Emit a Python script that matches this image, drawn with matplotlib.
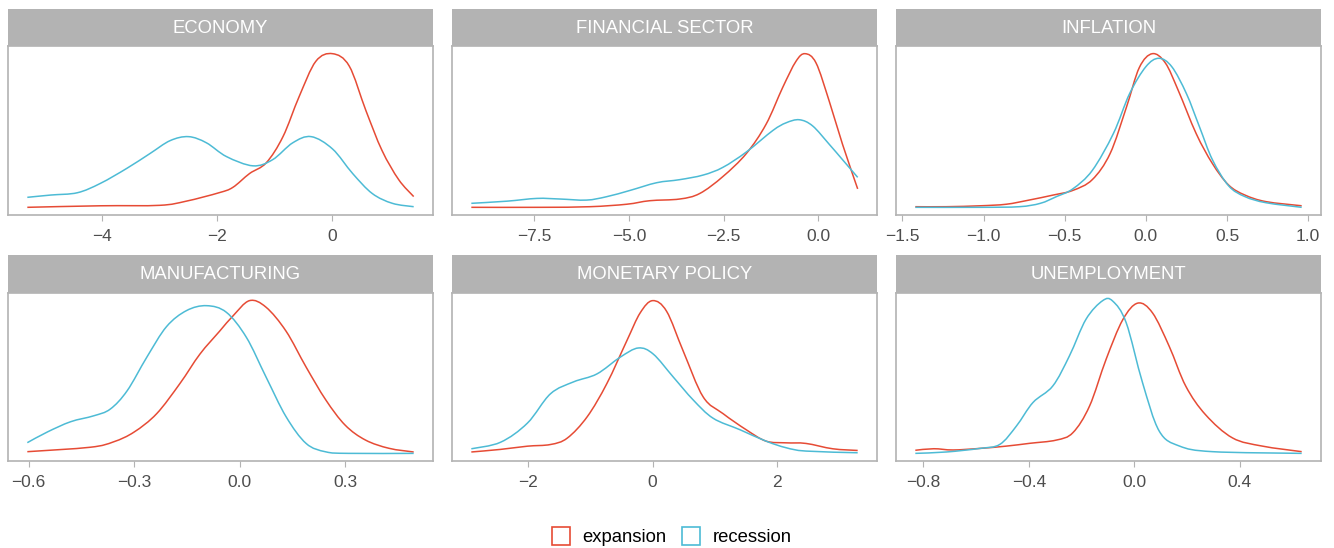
import numpy as np
import matplotlib
matplotlib.use('Agg')
import matplotlib.pyplot as plt
from matplotlib.path import Path
from matplotlib.patches import PathPatch
from matplotlib.lines import Line2D

plt.rcParams['font.family'] = ['Liberation Sans', 'DejaVu Sans']

# density curves (x = score, y = relative density height)
econ_exp_x = [-5.30, -4.03, -3.00, -2.54, -1.97, -1.73, -1.44, -1.15, -0.86, -0.58, -0.29, 0.00, 0.29, 0.58, 0.86, 1.15, 1.41]
econ_exp_y = [0.0, 0.01, 0.013, 0.04, 0.095, 0.13, 0.22, 0.29, 0.46, 0.72, 0.95, 1.0, 0.92, 0.63, 0.37, 0.18, 0.07]
econ_rec_x = [-5.30, -4.89, -4.43, -4.03, -3.57, -3.17, -2.82, -2.50, -2.19, -1.84, -1.38, -1.04, -0.69, -0.37, 0.00, 0.35, 0.69, 1.04, 1.41]
econ_rec_y = [0.065, 0.08, 0.095, 0.156, 0.254, 0.35, 0.434, 0.46, 0.42, 0.33, 0.27, 0.31, 0.42, 0.46, 0.38, 0.22, 0.09, 0.026, 0.004]

fin_exp_x = [-9.16, -7.34, -6.03, -5.06, -4.45, -3.66, -3.13, -2.52, -1.90, -1.38, -0.94, -0.59, -0.35, -0.06, 0.29, 0.64, 1.04]
fin_exp_y = [0.0, 0.0, 0.004, 0.02, 0.043, 0.054, 0.09, 0.2, 0.35, 0.54, 0.78, 0.95, 1.0, 0.94, 0.69, 0.41, 0.12]
fin_rec_x = [-9.16, -8.22, -7.43, -6.82, -6.12, -5.59, -4.97, -4.27, -3.66, -3.04, -2.52, -1.90, -1.20, -0.85, -0.50, -0.15, 0.29, 0.64, 1.04]
fin_rec_y = [0.026, 0.04, 0.058, 0.054, 0.047, 0.069, 0.11, 0.16, 0.18, 0.21, 0.26, 0.36, 0.50, 0.55, 0.57, 0.53, 0.41, 0.31, 0.195]

infl_exp_x = [-1.42, -1.23, -1.02, -0.86, -0.72, -0.57, -0.45, -0.33, -0.22, -0.12, -0.04, 0.04, 0.12, 0.20, 0.31, 0.41, 0.51, 0.61, 0.74, 0.96]
infl_exp_y = [0.004, 0.004, 0.01, 0.02, 0.047, 0.08, 0.11, 0.18, 0.35, 0.65, 0.91, 1.0, 0.94, 0.76, 0.48, 0.285, 0.145, 0.08, 0.037, 0.01]
infl_rec_x = [-1.42, -1.02, -0.78, -0.65, -0.55, -0.45, -0.33, -0.20, -0.10, 0.00, 0.08, 0.16, 0.25, 0.33, 0.41, 0.51, 0.61, 0.74, 0.96]
infl_rec_y = [0.0, 0.0, 0.004, 0.026, 0.07, 0.12, 0.24, 0.48, 0.74, 0.915, 0.97, 0.915, 0.74, 0.525, 0.31, 0.14, 0.07, 0.03, 0.0]

manu_exp_x = [-0.604, -0.425, -0.358, -0.300, -0.236, -0.170, -0.113, -0.057, -0.019, 0.028, 0.075, 0.132, 0.189, 0.245, 0.300, 0.358, 0.425, 0.495]
manu_exp_y = [0.011, 0.04, 0.076, 0.14, 0.26, 0.457, 0.65, 0.80, 0.90, 1.0, 0.957, 0.80, 0.565, 0.35, 0.185, 0.087, 0.033, 0.009]
manu_rec_x = [-0.604, -0.547, -0.481, -0.415, -0.368, -0.320, -0.264, -0.208, -0.151, -0.094, -0.038, 0.019, 0.075, 0.132, 0.189, 0.245, 0.310, 0.495]
manu_rec_y = [0.07, 0.14, 0.207, 0.246, 0.29, 0.41, 0.63, 0.83, 0.935, 0.967, 0.924, 0.76, 0.50, 0.24, 0.065, 0.01, 0.0, 0.0]

mone_exp_x = [-2.91, -2.44, -2.01, -1.64, -1.37, -1.05, -0.735, -0.415, -0.20, 0.00, 0.224, 0.49, 0.81, 1.13, 1.50, 1.82, 2.14, 2.46, 2.89, 3.29]
mone_exp_y = [0.009, 0.026, 0.047, 0.058, 0.10, 0.24, 0.457, 0.737, 0.92, 1.0, 0.93, 0.67, 0.37, 0.26, 0.155, 0.08, 0.069, 0.065, 0.03, 0.019]
mone_rec_x = [-2.91, -2.44, -2.01, -1.64, -1.27, -0.895, -0.52, -0.23, 0.01, 0.33, 0.65, 0.97, 1.40, 1.82, 2.14, 2.46, 3.29]
mone_rec_y = [0.03, 0.073, 0.198, 0.39, 0.468, 0.52, 0.63, 0.69, 0.65, 0.50, 0.35, 0.23, 0.155, 0.08, 0.037, 0.015, 0.004]

unem_exp_x = [-0.83, -0.76, -0.687, -0.586, -0.485, -0.397, -0.296, -0.233, -0.170, -0.107, -0.044, 0.013, 0.069, 0.132, 0.195, 0.270, 0.372, 0.485, 0.634]
unem_exp_y = [0.02, 0.03, 0.022, 0.032, 0.047, 0.065, 0.086, 0.134, 0.306, 0.61, 0.866, 0.974, 0.91, 0.694, 0.435, 0.25, 0.10, 0.047, 0.011]
unem_rec_x = [-0.83, -0.712, -0.586, -0.51, -0.447, -0.384, -0.309, -0.246, -0.183, -0.120, -0.082, -0.031, 0.031, 0.094, 0.170, 0.296, 0.634]
unem_rec_y = [0.0, 0.009, 0.032, 0.058, 0.177, 0.33, 0.437, 0.632, 0.87, 0.99, 0.987, 0.847, 0.458, 0.145, 0.048, 0.011, 0.0]

titles = ['ECONOMY', 'FINANCIAL SECTOR', 'INFLATION', 'MANUFACTURING', 'MONETARY POLICY', 'UNEMPLOYMENT']
ticks = [[-4, -2, 0], [-7.5, -5.0, -2.5, 0.0], [-1.5, -1.0, -0.5, 0.0, 0.5, 1.0],
         [-0.6, -0.3, 0.0, 0.3], [-2, 0, 2], [-0.8, -0.4, 0.0, 0.4]]
tick_labels = [['\u22124', '\u22122', '0'], ['\u22127.5', '\u22125.0', '\u22122.5', '0.0'],
               ['\u22121.5', '\u22121.0', '\u22120.5', '0.0', '0.5', '1.0'],
               ['\u22120.6', '\u22120.3', '0.0', '0.3'], ['\u22122', '0', '2'],
               ['\u22120.8', '\u22120.4', '0.0', '0.4']]
curves = [(econ_exp_x, econ_exp_y, econ_rec_x, econ_rec_y),
          (fin_exp_x, fin_exp_y, fin_rec_x, fin_rec_y),
          (infl_exp_x, infl_exp_y, infl_rec_x, infl_rec_y),
          (manu_exp_x, manu_exp_y, manu_rec_x, manu_rec_y),
          (mone_exp_x, mone_exp_y, mone_rec_x, mone_rec_y),
          (unem_exp_x, unem_exp_y, unem_rec_x, unem_rec_y)]

red = '#E64B35'
blue = '#4DBBD5'
grey = '#B3B3B3'


def smooth_line(ax, xs, ys, color):
    # the read-off points joined by cubic Bezier pieces (Catmull-Rom tangents)
    p = np.column_stack([xs, ys]).astype(float)
    verts = [p[0]]
    codes = [Path.MOVETO]
    n = len(p)
    for k in range(n - 1):
        p0 = p[k - 1] if k > 0 else p[k]
        p3 = p[k + 2] if k + 2 < n else p[k + 1]
        c1 = p[k] + (p[k + 1] - p0) / 6.0
        c2 = p[k + 1] - (p3 - p[k]) / 6.0
        verts += [c1, c2, p[k + 1]]
        codes += [Path.CURVE4] * 3
    ax.add_patch(PathPatch(Path(verts, codes), facecolor='none', edgecolor=color, lw=1.1))


W, H = 1334, 548
fig = plt.figure(figsize=(W / 100, H / 100), dpi=100)

lefts = [8, 452, 896]
rows = [(9, 46, 215), (255, 293, 461)]  # strip top, axes top, axes bottom (pixels)
width = 425

for i in range(6):
    r, c = divmod(i, 3)
    st, at, ab = rows[r]
    l = lefts[c]
    ax = fig.add_axes([l / W, (H - ab) / H, width / W, (ab - at) / H])
    ex, ey, rx, ry = curves[i]
    smooth_line(ax, ex, ey, red)
    smooth_line(ax, rx, ry, blue)
    xmin = min(min(ex), min(rx))
    xmax = max(max(ex), max(rx))
    span = xmax - xmin
    ax.set_xlim(xmin - 0.05 * span, xmax + 0.05 * span)
    ymax = max(max(ey), max(ry))
    ax.set_ylim(-0.05 * ymax, 1.05 * ymax)
    ax.set_yticks([])
    ax.set_xticks(ticks[i])
    ax.set_xticklabels(tick_labels[i])
    ax.tick_params(axis='x', length=4, width=0.8, color=grey, labelsize=12.5,
                   labelcolor='#4D4D4D', pad=6)
    for s in ax.spines.values():
        s.set_color(grey)
        s.set_linewidth(1.2)

    # facet strip
    sax = fig.add_axes([l / W, (H - at) / H, width / W, (at - st) / H])
    sax.set_facecolor(grey)
    sax.set_xticks([])
    sax.set_yticks([])
    for s in sax.spines.values():
        s.set_visible(False)
    sax.text(0.5, 0.48, titles[i], color='white', fontsize=13.3,
             ha='center', va='center', transform=sax.transAxes)

handles = [Line2D([], [], marker='s', linestyle='none', markersize=12.5,
                  markerfacecolor='white', markeredgecolor=red, markeredgewidth=1.2),
           Line2D([], [], marker='s', linestyle='none', markersize=12.5,
                  markerfacecolor='white', markeredgecolor=blue, markeredgewidth=1.2)]
fig.legend(handles, ['expansion', 'recession'], loc='center', bbox_to_anchor=(0.5035, 1 - 538 / H),
           ncol=2, frameon=False, fontsize=13.3, handletextpad=0.7, columnspacing=0.8,
           handlelength=1.0)

fig.savefig('out.png', dpi=100)
